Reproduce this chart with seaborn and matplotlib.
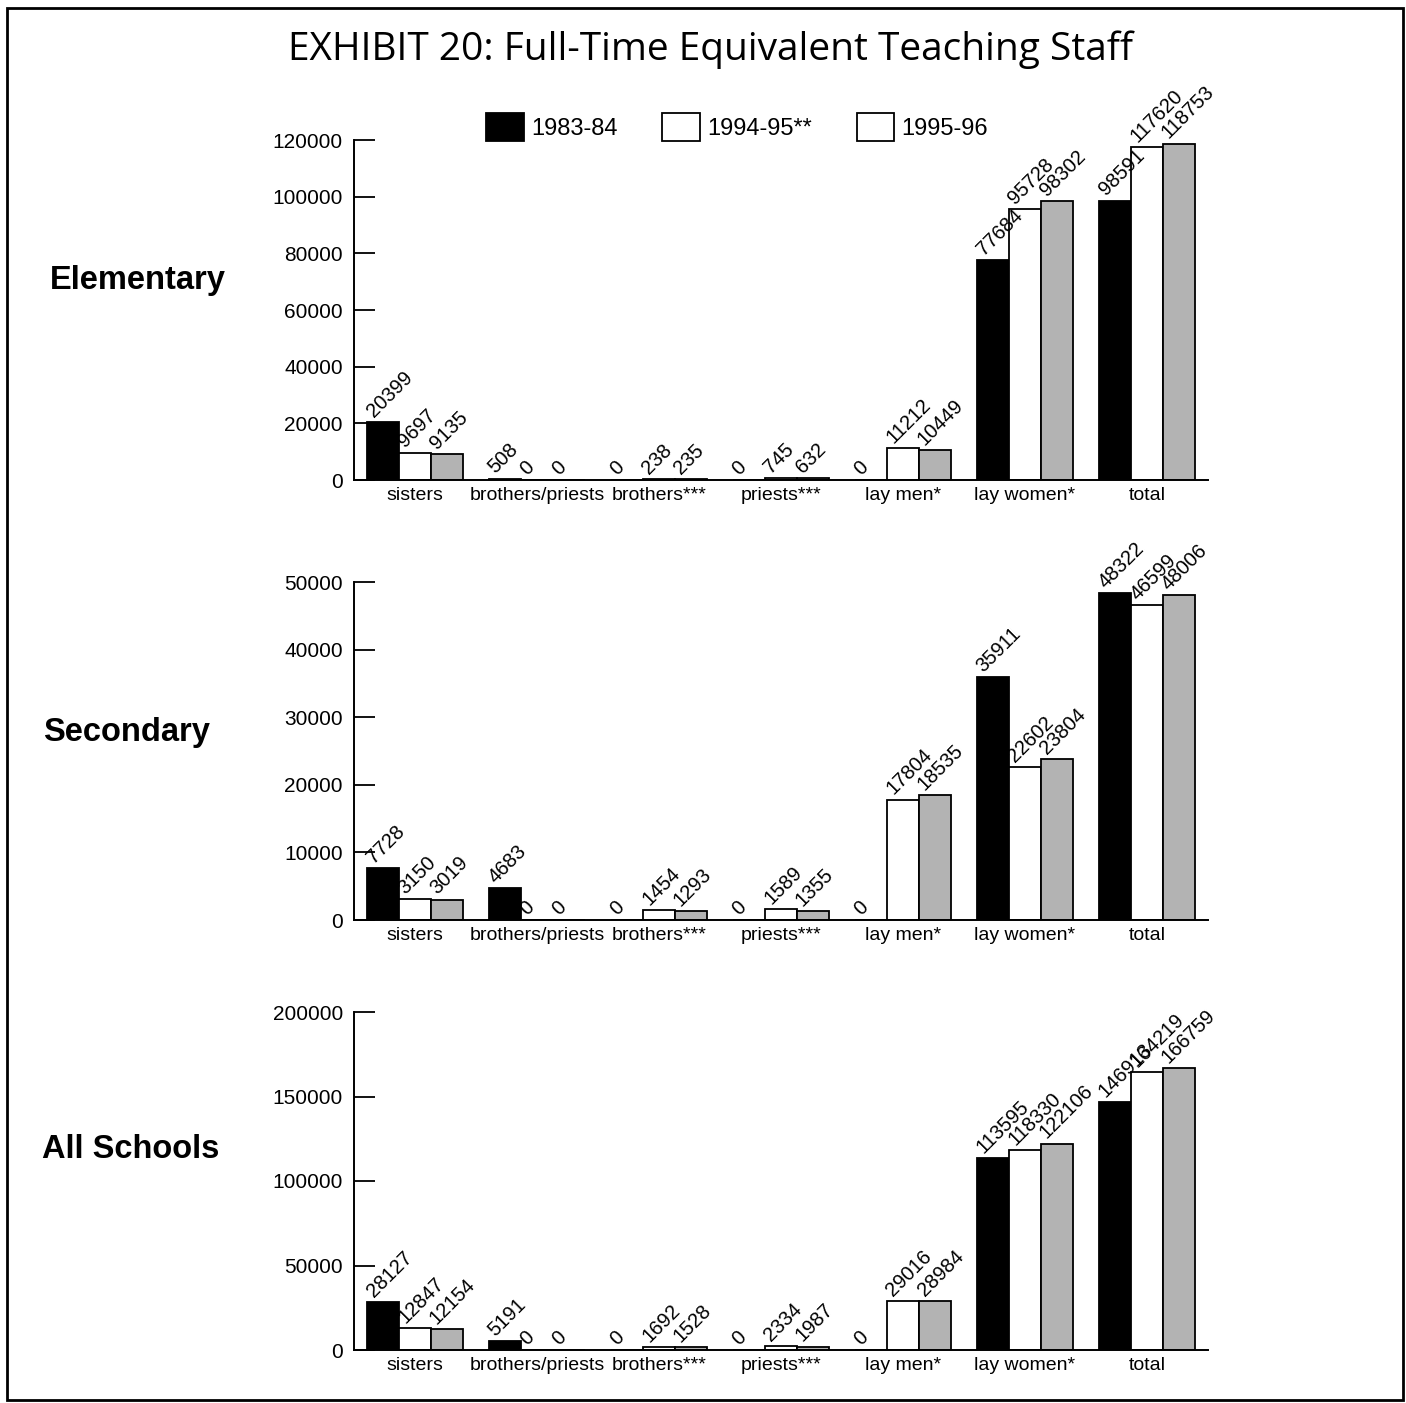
import numpy as np
import pandas as pd
import matplotlib
matplotlib.use('Agg')
import matplotlib.pyplot as plt
import seaborn as sns
from matplotlib.patches import Patch, Rectangle

# categories and years
categories = ['sisters', 'brothers/priests', 'brothers***', 'priests***',
              'lay men*', 'lay women*', 'total']
years = ['1983-84', '1994-95**', '1995-96']

# Elementary
elem_8384 = [20399, 508, 0, 0, 0, 77684, 98591]
elem_9495 = [9697, 0, 238, 745, 11212, 95728, 117620]
elem_9596 = [9135, 0, 235, 632, 10449, 98302, 118753]

# Secondary
sec_8384 = [7728, 4683, 0, 0, 0, 35911, 48322]
sec_9495 = [3150, 0, 1454, 1589, 17804, 22602, 46599]
sec_9596 = [3019, 0, 1293, 1355, 18535, 23804, 48006]

# All schools
all_8384 = [28127, 5191, 0, 0, 0, 113595, 146913]
all_9495 = [12847, 0, 1692, 2334, 29016, 118330, 164219]
all_9596 = [12154, 0, 1528, 1987, 28984, 122106, 166759]

panels = [
    ('Elementary', [elem_8384, elem_9495, elem_9596], 120000, 20000),
    ('Secondary', [sec_8384, sec_9495, sec_9596], 50000, 10000),
    ('All Schools', [all_8384, all_9495, all_9596], 200000, 50000),
]

sns.set_style('white')
plt.rcParams['font.family'] = ['Liberation Sans', 'DejaVu Sans']
for k in ['text.color', 'axes.labelcolor', 'xtick.color', 'ytick.color']:
    plt.rcParams[k] = 'black'

W, H = 1406, 1403
fig = plt.figure(figsize=(W / 100, H / 100), dpi=100)

palette = {'1983-84': 'black', '1994-95**': 'white', '1995-96': '#b3b3b3'}

# axes boxes in pixels: (top, bottom)
boxes = [(140, 480), (582, 920), (1012, 1350)]
label_pos = [(138, 280), (126, 732), (131, 1150)]
ax_left, ax_right = 354, 1208

for (name, series, ymax, ystep), (top, bot), (lx, ly) in zip(panels, boxes, label_pos):
    ax = fig.add_axes([ax_left / W, 1 - bot / H, (ax_right - ax_left) / W, (bot - top) / H])
    df = pd.DataFrame({
        'category': categories * 3,
        'year': np.repeat(years, len(categories)),
        'value': series[0] + series[1] + series[2],
    })
    sns.barplot(data=df, x='category', y='value', hue='year', palette=palette,
                order=categories, hue_order=years, width=0.78, edgecolor='black',
                linewidth=1.3, legend=False, ax=ax)
    # rotated value labels above each bar
    for cont in ax.containers:
        for bar in cont:
            h = bar.get_height()
            xc = bar.get_x() + bar.get_width() / 2
            ax.annotate(f'{int(round(h))}', (xc, h), xytext=(-7, 3),
                        textcoords='offset points', rotation=45,
                        rotation_mode='anchor', ha='left', va='baseline',
                        fontsize=14.5)
    ax.set_xlim(-0.5, 6.5)
    ax.set_ylim(0, ymax)
    ax.set_yticks(np.arange(0, ymax + 1, ystep))
    ax.set_yticklabels([str(v) for v in range(0, ymax + 1, ystep)])
    ax.set_xticks(range(len(categories)))
    ax.set_xticklabels(categories)
    ax.set_xticks(np.arange(0.5, 7.0, 1.0), minor=True)
    ax.tick_params(axis='x', which='major', length=0, pad=5, labelsize=14)
    ax.tick_params(axis='x', which='minor', direction='in', length=7, width=1.3)
    ax.tick_params(axis='y', direction='in', length=15, width=1.3, pad=8,
                   labelsize=15, left=True)
    ax.set_xlabel('')
    ax.set_ylabel('')
    sns.despine(ax=ax)
    for s in ['left', 'bottom']:
        ax.spines[s].set_linewidth(1.4)
        ax.spines[s].set_color('black')
    ax.patch.set_alpha(0)
    fig.text(lx / W, 1 - ly / H, name, ha='center', va='center',
             fontsize=23.5, fontweight='bold')

# legend (third box drawn white, as in the original)
handles = [Patch(facecolor='black', edgecolor='black', linewidth=1.3),
           Patch(facecolor='white', edgecolor='black', linewidth=1.3),
           Patch(facecolor='white', edgecolor='black', linewidth=1.3)]
fig.legend(handles, years, loc='center', bbox_to_anchor=(737 / W, 1 - 127 / H),
           ncol=3, frameon=False, fontsize=17, handlelength=1.6,
           handleheight=1.45, handletextpad=0.3, columnspacing=1.9)

fig.text(710 / W, 1 - 50 / H, 'EXHIBIT 20: Full-Time Equivalent Teaching Staff',
         ha='center', va='center', fontsize=28, fontweight='medium',
         family=['Open Sans', 'DejaVu Sans'])

# page border
fig.patches.append(Rectangle((7 / W, 3 / H), (1396) / W, (1392) / H,
                             transform=fig.transFigure, fill=False,
                             edgecolor='black', linewidth=2))

fig.savefig('out.png', dpi=100)
